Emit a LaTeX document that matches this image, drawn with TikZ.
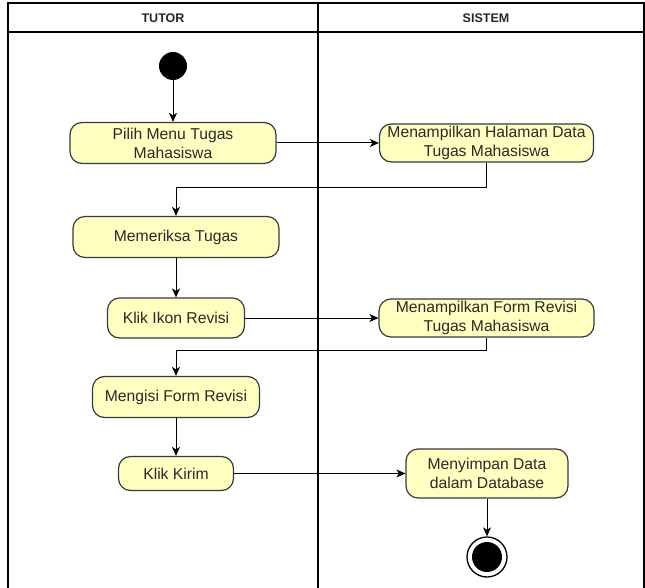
\documentclass[tikz,border=0pt]{standalone}
\usepackage{fontspec}
\setmainfont{Liberation Sans}
\usetikzlibrary{arrows.meta}
\definecolor{actfill}{HTML}{FFFFC0}
\definecolor{actline}{HTML}{36393D}
\definecolor{acttext}{HTML}{2A2A2A}
\begin{document}
\begin{tikzpicture}[x=1pt,y=-1pt,
  act/.style={draw=actline, fill=actfill, line width=1.2pt, rounded corners=12pt,
    inner sep=0pt, align=center, text=acttext,
    font=\fontsize{15.7}{19}\selectfont},
  flow/.style={draw=black, line width=1pt,
    -{Stealth[length=9pt,width=8pt,inset=2.5pt]}},
  lane/.style={draw=black, line width=1.3pt},
  head/.style={font=\bfseries\fontsize{12.5}{14}\selectfont, text=black!85}]
\useasboundingbox (0,0) rectangle (645,588);

% swimlanes
\draw[lane] (8,588) -- (8,3) -- (644,3) -- (644,588);
\draw[lane] (8,32) -- (644,32);
\draw[lane] (318,3) -- (318,588);
\node[head] (tutor) at (163,18) {TUTOR};
\node[head] (sistem) at (486,18) {SISTEM};

% initial and final states
\node[circle, fill=black, minimum size=28pt, inner sep=0pt] (start) at (173,66) {};
\node[circle, draw=black, line width=1.3pt, fill=white, minimum size=40pt, inner sep=0pt] (stop) at (487,557) {};
\fill[black] (stop.center) circle (15);

% activities
\node[act, minimum width=206pt, minimum height=41pt] (n1) at (173,143) {Pilih Menu Tugas\\Mahasiswa};
\node[act, minimum width=214pt, minimum height=38pt] (n2) at (486.5,143) {Menampilkan Halaman Data\\Tugas Mahasiswa};
\node[act, minimum width=206pt, minimum height=41pt] (n3) at (176,237) {Memeriksa Tugas};
\node[act, minimum width=137pt, minimum height=40pt] (n4) at (176,318) {Klik Ikon Revisi};
\node[act, minimum width=215pt, minimum height=38pt] (n5) at (486.5,318) {Menampilkan Form Revisi\\Tugas Mahasiswa};
\node[act, minimum width=167pt, minimum height=41pt] (n6) at (176,397) {Mengisi Form Revisi};
\node[act, minimum width=115pt, minimum height=34pt] (n7) at (176,473.5) {Klik Kirim};
\node[act, minimum width=162pt, minimum height=49pt] (n8) at (487,473.5) {Menyimpan Data\\dalam Database};

% bend points of the return flows
\coordinate (r1) at (486,188);
\coordinate (r2) at (486,350);

% control flow
\draw[flow] (start) -- (n1);
\draw[flow] (n1) -- (n2);
\draw[flow] (n2.south) -- (n2.south |- r1) -| (n3.north);
\draw[flow] (n3) -- (n4);
\draw[flow] (n4) -- (n5);
\draw[flow] (n5.south) -- (n5.south |- r2) -| (n6.north);
\draw[flow] (n6) -- (n7);
\draw[flow] (n7) -- (n8);
\draw[flow] (n8) -- (stop);
\end{tikzpicture}
\end{document}
